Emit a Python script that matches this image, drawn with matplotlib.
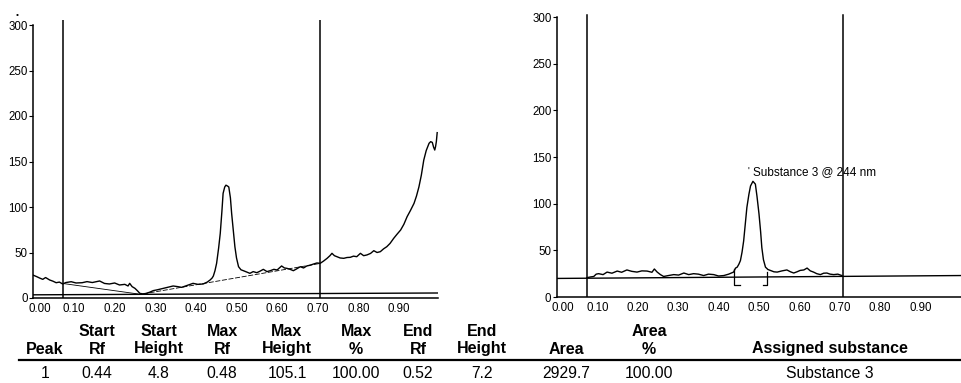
import matplotlib
matplotlib.use("Agg")
import matplotlib.pyplot as plt
import matplotlib.transforms as mtransforms

plt.rcParams['font.family'] = ['Liberation Sans', 'DejaVu Sans']

# ---------------- data ----------------
left_rf = [0.000, 0.008, 0.015, 0.023, 0.030, 0.040, 0.048, 0.056, 0.064, 0.072, 0.080, 0.093,
           0.105, 0.120, 0.132, 0.145, 0.163, 0.175, 0.187, 0.200, 0.212, 0.225, 0.233, 0.237,
           0.243, 0.250, 0.256, 0.262, 0.270, 0.278, 0.287, 0.295, 0.305, 0.320, 0.332, 0.344,
           0.355, 0.365, 0.380, 0.393, 0.405, 0.418, 0.428, 0.435, 0.440, 0.443, 0.447, 0.451,
           0.456, 0.460, 0.464, 0.467, 0.471, 0.474, 0.478, 0.481, 0.485, 0.488, 0.492, 0.496,
           0.500, 0.505, 0.511, 0.517, 0.525, 0.533, 0.541, 0.550, 0.558, 0.566, 0.575, 0.583,
           0.592, 0.600, 0.611, 0.618, 0.624, 0.632, 0.640, 0.648, 0.657, 0.665, 0.673, 0.681,
           0.690, 0.698, 0.706, 0.714, 0.723, 0.730, 0.735, 0.741, 0.747, 0.755, 0.764, 0.772,
           0.780, 0.788, 0.796, 0.805, 0.813, 0.821, 0.830, 0.838, 0.846, 0.854, 0.862, 0.870,
           0.878, 0.887, 0.895, 0.904, 0.912, 0.920, 0.928, 0.937, 0.943, 0.949, 0.955, 0.961,
           0.967, 0.974, 0.978, 0.982, 0.985, 0.988, 0.990, 0.992, 0.994]
left_h = [25.0, 23.5, 22.0, 20.5, 22.5, 19.8, 18.5, 16.8, 17.5, 15.4, 17.0, 17.9,
          16.5, 16.8, 18.0, 17.0, 18.7, 16.0, 15.4, 16.5, 14.3, 15.0, 13.2, 16.1,
          12.5, 10.6, 8.0, 5.1, 4.5, 5.1, 6.5, 8.1, 9.0, 10.6, 12.0, 13.2,
          12.5, 11.7, 14.0, 16.1, 15.0, 15.4, 17.5, 19.8, 22.0, 24.2, 30.0, 38.1,
          55.0, 71.1, 95.0, 115.0, 122.0, 124.0, 123.0, 122.0, 110.0, 93.0, 75.0, 56.4,
          44.0, 34.4, 31.0, 30.0, 28.5, 27.1, 29.0, 27.8, 29.5, 31.5, 29.0, 30.0,
          31.5, 30.8, 35.2, 33.0, 32.6, 31.5, 30.0, 32.0, 34.4, 33.0, 35.2, 36.0,
          37.4, 38.5, 38.1, 40.5, 43.6, 46.5, 49.1, 46.5, 45.4, 44.0, 43.6, 44.5,
          44.7, 46.0, 45.4, 49.1, 46.5, 47.3, 49.0, 52.0, 50.0, 50.9, 54.0, 56.4,
          60.0, 65.6, 70.0, 74.7, 81.0, 89.4, 96.0, 104.0, 112.0, 122.0, 135.0, 151.6,
          162.0, 170.0, 171.8, 171.0, 166.0, 162.6, 166.3, 172.0, 181.7]

right_rf = [0.074, 0.083, 0.091, 0.097, 0.103, 0.114, 0.124, 0.136, 0.149, 0.160, 0.173, 0.185,
            0.198, 0.210, 0.223, 0.235, 0.241, 0.248, 0.256, 0.264, 0.276, 0.289, 0.301, 0.314,
            0.326, 0.338, 0.350, 0.363, 0.375, 0.388, 0.400, 0.413, 0.425, 0.437, 0.442, 0.446,
            0.450, 0.454, 0.458, 0.462, 0.466, 0.470, 0.475, 0.479, 0.485, 0.491, 0.495, 0.500,
            0.504, 0.507, 0.511, 0.516, 0.522, 0.528, 0.537, 0.545, 0.557, 0.569, 0.578, 0.586,
            0.594, 0.602, 0.611, 0.619, 0.627, 0.635, 0.643, 0.652, 0.660, 0.668, 0.676, 0.685,
            0.695, 0.705]
right_h = [20.7, 21.5, 22.0, 24.5, 25.0, 24.0, 26.7, 25.5, 27.8, 26.5, 29.0, 27.5,
           26.7, 28.0, 27.8, 26.5, 30.0, 26.7, 24.0, 22.0, 23.0, 24.0, 23.5, 25.7,
           24.0, 25.0, 24.5, 23.0, 24.5, 24.0, 22.5, 23.0, 24.5, 26.7, 31.0, 32.0,
           35.0, 39.0, 48.0, 60.0, 78.0, 96.0, 110.0, 119.0, 124.0, 121.0, 108.0, 89.0,
           70.0, 53.0, 40.0, 32.0, 29.5, 28.5, 27.0, 26.7, 28.0, 29.0, 27.0, 25.7,
           27.0, 28.5, 29.0, 31.0, 28.0, 26.7, 25.0, 24.0, 25.5, 25.7, 24.5, 24.0,
           24.5, 23.0]

y_ticks = [0, 50, 100, 150, 200, 250, 300]
x_ticks = [0.00, 0.10, 0.20, 0.30, 0.40, 0.50, 0.60, 0.70, 0.80, 0.90]
x_tick_labels = ['0.00', '0.10', '0.20', '0.30', '0.40', '0.50', '0.60', '0.70', '0.80', '0.90']

left_marks = [0.072, 0.706]
right_marks = [0.074, 0.708]

left_base_rf = [0.072, 0.258]
left_base_h = [16.0, 4.4]
left_dash_rf = [0.270, 0.706]
left_dash_h = [4.5, 38.0]
left_floor_rf = [0.0, 0.997]
left_floor_h = [3.5, 5.5]

right_base_rf = [0.0, 1.0]
right_base_h = [19.9, 23.0]

peak_start_rf = 0.437
peak_end_rf = 0.521
peak_label = "Substance 3 @ 244 nm"

headers1 = ['', 'Start', 'Start', 'Max', 'Max', 'Max', 'End', 'End', '', 'Area', '']
headers2 = ['Peak', 'Rf', 'Height', 'Rf', 'Height', '%', 'Rf', 'Height', 'Area', '%', 'Assigned substance']
row1 = ['1', '0.44', '4.8', '0.48', '105.1', '100.00', '0.52', '7.2', '2929.7', '100.00', 'Substance 3']
col_x = [45, 97, 159, 222, 287, 356, 418, 482, 566, 649, 830]

# ---------------- figure ----------------
W, H = 962, 383
fig = plt.figure(figsize=(W / 100, H / 100), dpi=100)


def style_axes(ax, xmax):
    ax.set_xlim(0, xmax)
    ax.set_ylim(0, 305)
    for s in ['top', 'right']:
        ax.spines[s].set_visible(False)
    ax.spines['left'].set_bounds(0, 300)
    ax.spines['left'].set_linewidth(1.1)
    ax.spines['bottom'].set_linewidth(1.1)
    ax.set_yticks(y_ticks)
    ax.set_xticks(x_ticks)
    ax.set_xticklabels(x_tick_labels)
    ax.tick_params(axis='y', length=3, width=0.8, pad=1, labelsize=8.3)
    ax.tick_params(axis='x', length=0, pad=3.5, labelsize=8.3)
    ax.patch.set_alpha(0)
    # first x label sits just right of the y axis, as in the printout
    lab0 = ax.get_xticklabels()[0]
    lab0.set_transform(lab0.get_transform() +
                       mtransforms.ScaledTranslation(6 / 100, 0, fig.dpi_scale_trans))


# left chromatogram
axL = fig.add_axes([33.4 / W, (H - 298) / H, 405 / W, 305 * 0.91 / H])
style_axes(axL, 0.997)
axL.plot(left_rf, left_h, color='black', lw=1.0)
axL.plot(left_base_rf, left_base_h, color='black', lw=0.6)
axL.plot(left_dash_rf, left_dash_h, color='black', lw=0.6, ls=(0, (6, 2)))
axL.plot(left_floor_rf, left_floor_h, color='black', lw=1.0)
for m in left_marks:
    axL.axvline(m, ymin=0, ymax=1.0, color='black', lw=1.1)

# right chromatogram
axR = fig.add_axes([557 / W, (H - 297) / H, 404 / W, 305 * 0.933 / H])
style_axes(axR, 1.0)
axR.plot(right_rf, right_h, color='black', lw=1.0)
axR.plot(right_base_rf, right_base_h, color='black', lw=1.0)
for m in right_marks:
    axR.axvline(m, ymin=0, ymax=0.99, color='black', lw=1.1)
# peak integration brackets
axR.plot([peak_start_rf, peak_start_rf, peak_start_rf + 0.016], [30, 12.4, 12.4], color='black', lw=0.9)
axR.plot([peak_end_rf - 0.012, peak_end_rf, peak_end_rf], [12.4, 12.4, 27], color='black', lw=0.9)
axR.text(0.471, 134, "'", fontsize=7, va='center', ha='left')
axR.text(0.484, 134, peak_label, fontsize=8.5, va='center', ha='left')

# small mark top-left
fig.text(17 / W, 1 - 15 / H, '\u2022', fontsize=6, ha='center', va='center')

# ---------------- results table ----------------
def fy(py):
    return 1 - py / H

for x, t in zip(col_x, headers1):
    if t:
        fig.text(x / W, fy(331), t, fontsize=11.5, fontweight='bold', ha='center', va='center')
for x, t in zip(col_x, headers2):
    fig.text(x / W, fy(349), t, fontsize=11.5, fontweight='bold', ha='center', va='center')
for x, t in zip(col_x, row1):
    fig.text(x / W, fy(373), t, fontsize=11.3, ha='center', va='center')

fig.add_artist(plt.Line2D([19 / W, 960 / W], [fy(360), fy(360)], color='black', lw=1.6))

fig.savefig('out.png', dpi=100)
